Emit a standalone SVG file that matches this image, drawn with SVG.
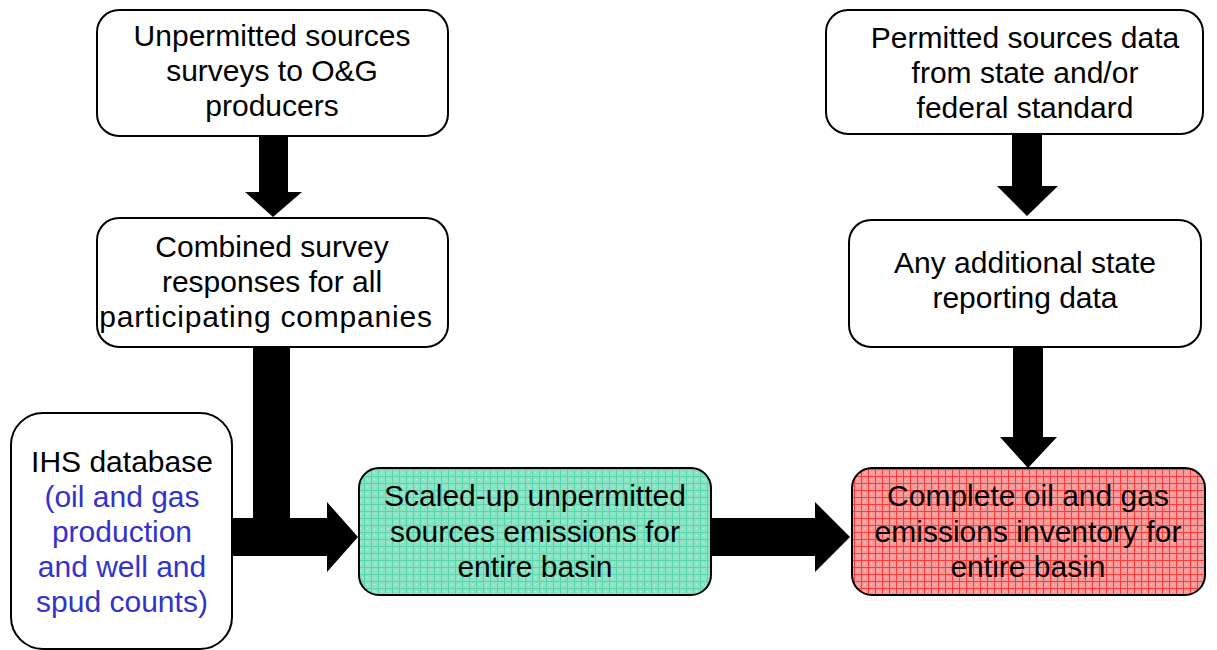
<svg xmlns="http://www.w3.org/2000/svg" width="1217" height="650" viewBox="0 0 1217 650">
<defs>
<style>
.box{stroke:#000;stroke-width:2;fill:#fff}
.t{font-family:"Liberation Sans",Arial,sans-serif;font-size:30px;fill:#000;text-anchor:middle}
.b{fill:#3333cc}
.arr{fill:#000}
</style>
<pattern id="pg" width="7" height="7" patternUnits="userSpaceOnUse">
<rect width="7" height="7" fill="#8ae4c6"/>
<path d="M0 0.5H7M0.5 0V7" stroke="#5ad4a9" stroke-width="1"/>
<circle cx="3.5" cy="3.5" r="0.6" fill="#d8f7ec"/>
</pattern>
<pattern id="pr" width="7" height="7" patternUnits="userSpaceOnUse">
<rect width="7" height="7" fill="#f79a9a"/>
<path d="M0 0.5H7M0.5 0V7" stroke="#ff3a3a" stroke-width="1"/>
<circle cx="3.5" cy="3.5" r="0.6" fill="#ffd6d6"/>
</pattern>
</defs>
<rect width="1217" height="650" fill="#fff"/>
<g id="connectors">
<polygon class="arr" points="259,136 288,136 288,192 302,192 273,217 245,192 259,192"/>
<polygon class="arr" points="1012,134 1042,134 1042,186 1058,186 1027,216 997,186 1012,186"/>
<polygon class="arr" points="1013,347 1043,347 1043,437 1057,437 1028,468 1000,437 1013,437"/>
<polygon class="arr" points="253,347 290,347 290,518 327,518 327,502 358,537 327,572 327,556 232,556 232,518 253,518"/>
<polygon class="arr" points="711,518 815,518 815,502 850,537 815,572 815,556 711,556"/>
</g>
<g id="n1">
<rect class="box" x="97" y="10" width="351" height="126" rx="22"/>
<text class="t" x="272" y="46">Unpermitted sources</text>
<text class="t" x="272" y="81">surveys to O&amp;G</text>
<text class="t" x="272" y="116">producers</text>
</g>
<g id="n2">
<rect class="box" x="97" y="218" width="351" height="129" rx="22"/>
<text class="t" x="272" y="257">Combined survey</text>
<text class="t" x="272" y="292">responses for all</text>
<text class="t" x="266" y="327" style="letter-spacing:0.8px">participating companies</text>
</g>
<g id="n3">
<rect class="box" x="826" y="10" width="377" height="124" rx="22"/>
<text class="t" x="1025" y="48">Permitted sources data</text>
<text class="t" x="1025" y="83">from state and/or</text>
<text class="t" x="1025" y="118">federal standard</text>
</g>
<g id="n4">
<rect class="box" x="849" y="220" width="352" height="127" rx="22"/>
<text class="t" x="1025" y="273">Any additional state</text>
<text class="t" x="1025" y="308">reporting data</text>
</g>
<g id="n5">
<rect class="box" x="11" y="413" width="221" height="236" rx="32"/>
<text class="t" x="122" y="472">IHS database</text>
<text class="t b" x="122" y="507">(oil and gas</text>
<text class="t b" x="122" y="542">production</text>
<text class="t b" x="122" y="577">and well and</text>
<text class="t b" x="122" y="612">spud counts)</text>
</g>
<g id="n6">
<rect class="box" x="359" y="468" width="352" height="127" rx="20" style="fill:url(#pg)"/>
<text class="t" x="535" y="506">Scaled-up unpermitted</text>
<text class="t" x="535" y="542">sources emissions for</text>
<text class="t" x="535" y="577">entire basin</text>
</g>
<g id="n7">
<rect class="box" x="852" y="468" width="353" height="127" rx="20" style="fill:url(#pr)"/>
<text class="t" x="1028" y="506">Complete oil and gas</text>
<text class="t" x="1028" y="542">emissions inventory for</text>
<text class="t" x="1028" y="577">entire basin</text>
</g>
</svg>
